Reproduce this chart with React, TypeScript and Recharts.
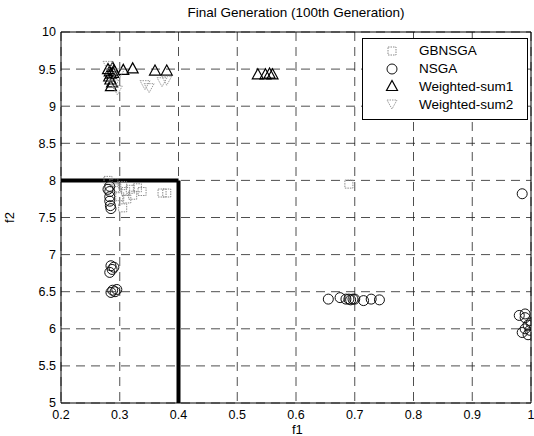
import {
  ScatterChart,
  Scatter,
  XAxis,
  YAxis,
  CartesianGrid,
  ReferenceLine,
} from 'recharts';

const xTicks = [0.2, 0.3, 0.4, 0.5, 0.6, 0.7, 0.8, 0.9, 1];
const yTicks = [5, 5.5, 6, 6.5, 7, 7.5, 8, 8.5, 9, 9.5, 10];

// GBNSGA (squares)
const gbnsgaF1 = [0.28, 0.29, 0.295, 0.305, 0.31, 0.318, 0.322, 0.33, 0.338, 0.3, 0.312, 0.305, 0.372, 0.38, 0.69];
const gbnsgaF2 = [8.0, 7.97, 7.9, 7.93, 7.85, 7.88, 7.8, 7.9, 7.85, 7.78, 7.75, 7.63, 7.83, 7.83, 7.95];

// NSGA (circles)
const nsgaF1 = [
  0.283, 0.283, 0.283, 0.283, 0.284, 0.285, 0.28,
  0.285, 0.287, 0.283, 0.29,
  0.288, 0.292, 0.295, 0.285,
  0.655, 0.675, 0.685, 0.69, 0.693, 0.697, 0.7, 0.715, 0.728, 0.742,
  0.985,
  0.98, 0.99, 0.995, 0.99, 0.998, 0.985, 0.995, 1.0, 0.99,
];
const nsgaF2 = [
  7.92, 7.85, 7.78, 7.72, 7.66, 7.62, 7.88,
  6.85, 6.8, 6.76, 6.83,
  6.52, 6.5, 6.53, 6.49,
  6.4, 6.42, 6.4, 6.4, 6.39, 6.4, 6.4, 6.38, 6.4, 6.39,
  7.82,
  6.18, 6.15, 6.05, 6.0, 5.98, 5.95, 5.92, 6.08, 6.2,
];

// Weighted-sum1 (triangles)
const ws1F1 = [0.28, 0.283, 0.285, 0.288, 0.282, 0.29, 0.287, 0.285, 0.284, 0.289, 0.306, 0.322, 0.36, 0.38, 0.535, 0.548, 0.555, 0.56];
const ws1F2 = [9.5, 9.47, 9.44, 9.52, 9.4, 9.48, 9.32, 9.27, 9.36, 9.45, 9.49, 9.51, 9.48, 9.48, 9.43, 9.43, 9.44, 9.43];

// Weighted-sum2 (down triangles)
const ws2F1 = [0.28, 0.285, 0.29, 0.296, 0.343, 0.35, 0.372, 0.38, 0.3];
const ws2F2 = [9.55, 9.4, 9.3, 9.22, 9.29, 9.25, 9.33, 9.35, 9.45];

const toPoints = (xs: number[], ys: number[]) => xs.map((x, i) => ({ x, y: ys[i] }));

const gbnsga = toPoints(gbnsgaF1, gbnsgaF2);
const nsga = toPoints(nsgaF1, nsgaF2);
const ws1 = toPoints(ws1F1, ws1F2);
const ws2 = toPoints(ws2F1, ws2F2);

const FONT = '"Liberation Sans", Arial, sans-serif';

const Square = ({ cx, cy }: any) => (
  <rect x={cx - 4} y={cy - 4} width={8} height={8} fill="none" stroke="#8a8a8a" strokeDasharray="1.5 1" />
);
const Ring = ({ cx, cy }: any) => (
  <circle cx={cx} cy={cy} r={5} fill="none" stroke="#111" strokeWidth={1} />
);
const TriUp = ({ cx, cy }: any) => (
  <polygon points={`${cx - 5.5},${cy + 4.5} ${cx + 5.5},${cy + 4.5} ${cx},${cy - 5.5}`} fill="none" stroke="#000" strokeWidth={1.2} />
);
const TriDown = ({ cx, cy }: any) => (
  <polygon points={`${cx - 5},${cy - 4} ${cx + 5},${cy - 4} ${cx},${cy + 5}`} fill="none" stroke="#9a9a9a" strokeDasharray="1.5 1" />
);

const legendItems = [
  { label: 'GBNSGA', Shape: Square },
  { label: 'NSGA', Shape: Ring },
  { label: 'Weighted-sum1', Shape: TriUp },
  { label: 'Weighted-sum2', Shape: TriDown },
];

function LegendBox() {
  return (
    <div
      style={{
        position: 'absolute',
        left: 362,
        top: 38,
        width: 166,
        height: 82,
        border: '1px solid #000',
        background: '#fff',
        fontFamily: FONT,
        fontSize: 13.5,
        boxSizing: 'border-box',
        paddingTop: 3,
      }}
    >
      {legendItems.map(({ label, Shape }) => (
        <div key={label} style={{ display: 'flex', alignItems: 'center', height: 17.8 }}>
          <svg width={56} height={16}>
            <Shape cx={29} cy={8} />
          </svg>
          <span>{label}</span>
        </div>
      ))}
    </div>
  );
}

export default function App() {
  return (
    <div style={{ position: 'absolute', left: 0, top: 0, width: 534, height: 436, background: '#fff' }}>
      <div
        style={{
          position: 'absolute',
          top: 5,
          left: 0,
          width: 592,
          textAlign: 'center',
          fontFamily: FONT,
          fontSize: 13.5,
        }}
      >
        Final Generation (100th Generation)
      </div>
      <div
        style={{ position: 'absolute', left: 292, top: 424, fontFamily: FONT, fontSize: 13, lineHeight: '12px' }}
      >
        f1
      </div>
      <div
        style={{
          position: 'absolute',
          left: 4,
          top: 210,
          fontFamily: FONT,
          fontSize: 13,
          transform: 'rotate(-90deg)',
        }}
      >
        f2
      </div>
      <ScatterChart width={534} height={436} margin={{ top: 32, right: 3, left: 0, bottom: 0 }}>
        <CartesianGrid stroke="#222" strokeDasharray="9 6" strokeWidth={0.8} />
        <XAxis
          type="number"
          dataKey="x"
          domain={[0.2, 1]}
          ticks={xTicks}
          tickFormatter={(v: number) => (v === 1 ? '1' : v.toFixed(1))}
          height={33}
          tickLine={false}
          tickSize={0}
          tickMargin={7}
          stroke="#000"
          tick={{ fill: '#000', fontSize: 12.5, fontFamily: FONT }}
          allowDataOverflow
        />
        <YAxis
          type="number"
          dataKey="y"
          domain={[5, 10]}
          ticks={yTicks}
          width={61}
          tickLine={false}
          tickSize={0}
          tickMargin={5}
          stroke="#000"
          tick={{ fill: '#000', fontSize: 12.5, fontFamily: FONT }}
          allowDataOverflow
        />
        <ReferenceLine y={10} stroke="#000" />
        <ReferenceLine x={1} stroke="#000" />
        <Scatter name="GBNSGA" data={gbnsga} shape={Square} isAnimationActive={false} />
        <Scatter name="NSGA" data={nsga} shape={Ring} isAnimationActive={false} />
        <Scatter name="Weighted-sum1" data={ws1} shape={TriUp} isAnimationActive={false} />
        <Scatter name="Weighted-sum2" data={ws2} shape={TriDown} isAnimationActive={false} />
        <ReferenceLine segment={[{ x: 0.2, y: 8 }, { x: 0.4, y: 8 }]} stroke="#000" strokeWidth={4} />
        <ReferenceLine segment={[{ x: 0.4, y: 8 }, { x: 0.4, y: 5 }]} stroke="#000" strokeWidth={4} />
      </ScatterChart>
      <LegendBox />
    </div>
  );
}
